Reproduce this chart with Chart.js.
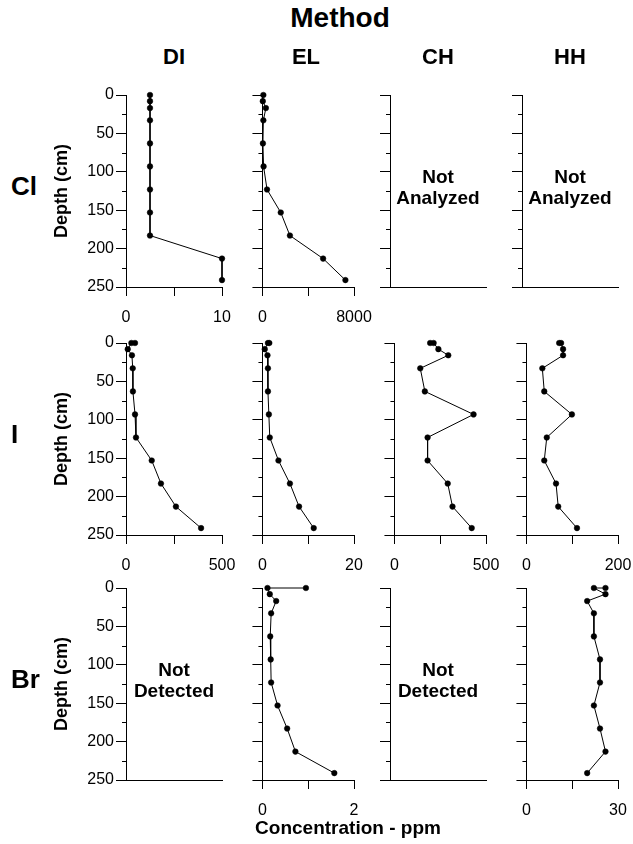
<!DOCTYPE html>
<html>
<head>
<meta charset="utf-8">
<script src="https://cdn.jsdelivr.net/npm/chart.js@4.4.1/dist/chart.umd.min.js"></script>
<style>
  html, body { margin: 0; padding: 0; background: #fff; }
  #page { position: relative; width: 633px; height: 844px; overflow: hidden;
          font-family: Arial, "Liberation Sans", sans-serif; color: #000; }
  #page canvas { position: absolute; }
  .lbl { position: absolute; transform: translate(-50%, -50%); font-weight: bold;
         white-space: nowrap; text-align: center; }
  .row { position: absolute; transform: translateY(-50%); font-weight: bold; font-size: 26px; }
  .na { font-size: 19px; line-height: 21px; }
</style>
</head>
<body>
<div id="page"></div>
<script>
// depths (cm) for each element
const depthCl = [0, 8, 17, 33, 63, 93, 123, 153, 183, 213, 241];
const depthI = [0, 0, 8, 16, 33, 63, 93, 123, 153, 183, 213, 241];
const depthBr = [0, 0, 8, 17, 33, 63, 93, 123, 153, 183, 213, 241];

// concentrations (ppm), by element and method
const clDI = [2.5, 2.5, 2.5, 2.5, 2.5, 2.5, 2.5, 2.5, 2.5, 10, 10];
const clEL = [80, 30, 300, 80, 40, 100, 400, 1600, 2400, 5300, 7250];
const iDI = [47, 28, 9, 31, 35, 36, 47, 52, 134, 182, 260, 391];
const iEL = [1.5, 1.2, 0.5, 1.1, 1.2, 1.2, 1.4, 1.6, 3.5, 6.0, 8.0, 11.2];
const iCH = [195, 214, 240, 294, 141, 166, 432, 181, 181, 291, 317, 422];
const iHH = [71.5, 75.7, 80, 80, 34.7, 38.9, 99.3, 44.4, 38.9, 64.6, 69.4, 110.4];
const brEL = [0.95, 0.11, 0.16, 0.30, 0.19, 0.17, 0.18, 0.19, 0.33, 0.54, 0.72, 1.57];
const brHH = [25.9, 22.1, 25.9, 19.9, 22.1, 22.1, 24.1, 24.1, 22.1, 24.1, 25.9, 19.9];

// axis ticks
const depthMajor = [0, 50, 100, 150, 200, 250];
const depthMinor = [25, 75, 125, 175, 225];
const xMaxCl = [10, 8000, null, null];
const xMaxI = [500, 20, 500, 200];
const xMaxBr = [null, 2, null, 30];

const methods = ['DI', 'EL', 'CH', 'HH'];
const elements = ['Cl', 'I', 'Br'];

const rows = [
  { depth: depthCl, vals: [clDI, clEL, null, null], xMax: xMaxCl, note: [null, null, 'Not<br>Analyzed', 'Not<br>Analyzed'] },
  { depth: depthI, vals: [iDI, iEL, iCH, iHH], xMax: xMaxI, note: [null, null, null, null] },
  { depth: depthBr, vals: [null, brEL, null, brHH], xMax: xMaxBr, note: ['Not<br>Detected', null, 'Not<br>Detected', null] }
];

// layout of the panel grid
const colX = [126, 258, 390, 522];
const rowTop = [95, 343, 588];
const PW = 96, PH = 192, PADT = 12, PADR = 30, XH = 45;

Chart.defaults.font.family = 'Arial, "Liberation Sans", sans-serif';
Chart.defaults.font.size = 16;
Chart.defaults.color = '#000';

const page = document.getElementById('page');

const addLabel = (text, x, y, size, cls) => {
  const d = document.createElement('div');
  d.className = 'lbl' + (cls ? ' ' + cls : '');
  d.style.left = x + 'px';
  d.style.top = y + 'px';
  if (size) d.style.fontSize = size + 'px';
  d.innerHTML = text;
  page.appendChild(d);
};

const minorTicks = {
  id: 'minorTicks',
  afterDraw(chart) {
    const y = chart.scales.y, ctx = chart.ctx;
    ctx.save();
    ctx.strokeStyle = '#000';
    ctx.lineWidth = 1;
    ctx.beginPath();
    depthMinor.forEach(v => {
      const py = Math.round(y.getPixelForValue(v)) + 0.5;
      ctx.moveTo(y.right - 4, py);
      ctx.lineTo(y.right, py);
    });
    ctx.stroke();
    ctx.restore();
  }
};

const makePanel = (r, c) => {
  const row = rows[r];
  const vals = row.vals[c];
  const m = row.xMax[c];
  const first = c === 0;
  const yW = first ? 80 : 12;

  const canvas = document.createElement('canvas');
  canvas.width = yW + PW + PADR;
  canvas.height = PADT + PH + XH;
  canvas.style.left = (colX[c] - yW) + 'px';
  canvas.style.top = (rowTop[r] - PADT) + 'px';
  page.appendChild(canvas);

  const datasets = vals ? [{
    data: row.depth.map((d, i) => ({ x: vals[i], y: d })),
    borderColor: '#000',
    borderWidth: 1,
    pointRadius: 2.8,
    pointBorderWidth: 0.5,
    pointBackgroundColor: '#000',
    pointBorderColor: '#000',
    tension: 0,
    clip: false
  }] : [];

  new Chart(canvas, {
    type: 'line',
    data: { datasets },
    options: {
      responsive: false,
      animation: false,
      devicePixelRatio: 1,
      layout: { padding: { top: PADT, right: PADR, left: 0, bottom: 0 } },
      plugins: { legend: { display: false }, tooltip: { enabled: false } },
      scales: {
        x: {
          type: 'linear',
          position: 'bottom',
          min: 0,
          max: m || 1,
          afterBuildTicks: s => { s.ticks = [0, (m || 1) / 2, m || 1].map(v => ({ value: v })); },
          afterFit: s => { s.height = XH; },
          ticks: {
            display: !!m,
            padding: 12,
            maxRotation: 0,
            callback: v => (v === 0 || v === m) ? String(v) : ''
          },
          grid: { display: true, drawOnChartArea: false, drawTicks: !!m, tickLength: 9, color: '#000' },
          border: { color: '#000', width: 1 }
        },
        y: {
          type: 'linear',
          position: 'left',
          reverse: true,
          min: 0,
          max: 250,
          afterBuildTicks: s => { s.ticks = depthMajor.map(v => ({ value: v })); },
          afterFit: s => { s.width = yW; },
          ticks: { display: first, padding: 2 },
          grid: { display: true, drawOnChartArea: false, tickLength: 10, color: '#000' },
          border: { color: '#000', width: 1 },
          title: {
            display: first,
            text: 'Depth (cm)',
            font: { size: 18, weight: 'bold' },
            padding: 5
          }
        }
      }
    },
    plugins: [minorTicks]
  });

  if (row.note[c]) addLabel(row.note[c], colX[c] + PW / 2, rowTop[r] + PH / 2 - 4, 0, 'na');
};

rows.forEach((row, r) => methods.forEach((mt, c) => makePanel(r, c)));

// titles and headers
addLabel('Method', 340, 18, 28);
methods.forEach((mt, c) => addLabel(mt, colX[c] + PW / 2, 57, 22));
elements.forEach((el, r) => {
  const d = document.createElement('div');
  d.className = 'row';
  d.style.left = '11px';
  d.style.top = (rowTop[r] + PH / 2 - 5) + 'px';
  d.textContent = el;
  page.appendChild(d);
});
addLabel('Concentration - ppm', 348, 828, 19);
</script>
</body>
</html>
